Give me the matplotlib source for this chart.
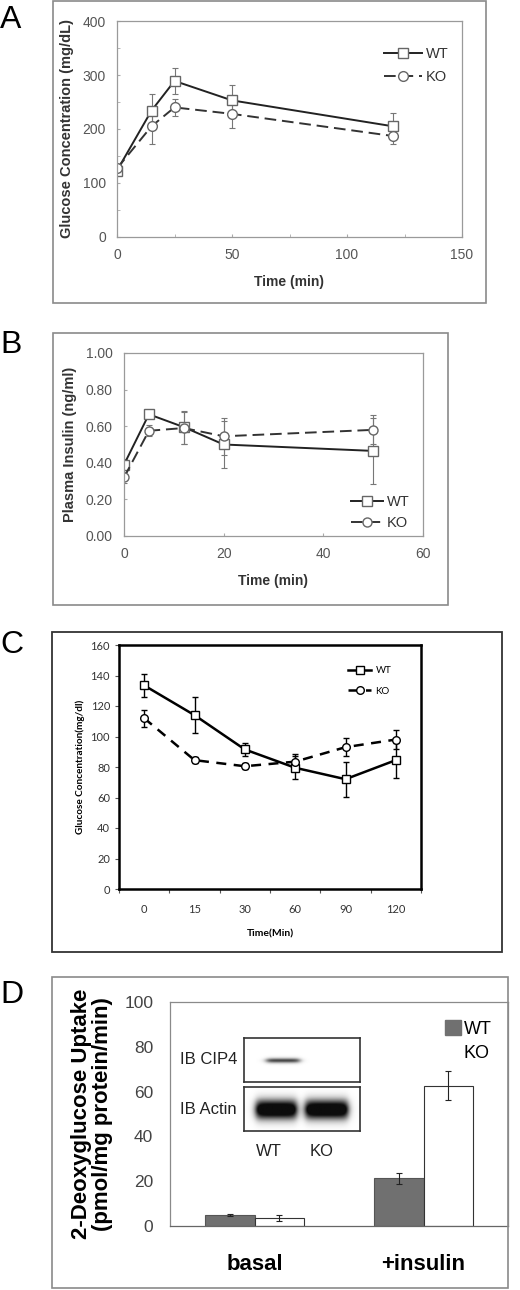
import numpy as np
import matplotlib
matplotlib.use("Agg")
import matplotlib.pyplot as plt
from matplotlib.patches import Rectangle
from matplotlib.patches import Patch

# ---------------- data ----------------
A_time = [0, 15, 25, 50, 120]
A_wt = [123, 234, 289, 253, 205]
A_wt_err = [5, 30, 24, 29, 24]
A_ko = [127, 205, 240, 228, 187]
A_ko_err = [5, 32, 15, 27, 15]

B_time = [0, 5, 12, 20, 50]
B_wt = [0.39, 0.665, 0.595, 0.50, 0.465]
B_wt_err = [0.03, 0.02, 0.09, 0.13, 0.18]
B_ko = [0.32, 0.575, 0.59, 0.545, 0.58]
B_ko_err = [0.03, 0.03, 0.09, 0.10, 0.08]

C_labels = ['0', '15', '30', '60', '90', '120']
C_wt = [133.5, 114, 91.5, 79.5, 72, 84.5]
C_wt_err = [7.5, 12, 4, 7.5, 11.5, 11.5]
C_ko = [112, 84.5, 80.5, 83.5, 93, 98]
C_ko_err = [5.5, 2, 2, 5, 6, 6]

D_groups = ['basal', '+insulin']
D_wt = [4.8, 21.3]
D_wt_err = [0.5, 2.5]
D_ko = [3.6, 62.7]
D_ko_err = [1.2, 6.3]

W, H = 520, 1290
fig = plt.figure(figsize=(W / 100, H / 100), dpi=100)
plt.rcParams['font.family'] = ['Liberation Sans', 'DejaVu Sans']


def ax_at(x0, y0, x1, y1):
    return fig.add_axes([x0 / W, 1 - y1 / H, (x1 - x0) / W, (y1 - y0) / H])


def frame(x0, y0, x1, y1, color, lw):
    fig.patches.append(Rectangle((x0 / W, 1 - y1 / H), (x1 - x0) / W, (y1 - y0) / H,
                                 transform=fig.transFigure, fill=False,
                                 edgecolor=color, linewidth=lw))


def panel_label(x, y, s):
    fig.text(x / W, 1 - y / H, s, fontsize=23, ha='left', va='center',
             family=['Liberation Sans'])


gray_tick = '#555555'
# ---------------- Panel A ----------------
frame(53, 1, 486, 303, '#8a8a8a', 1.2)
panel_label(0, 20, 'A')
axA = ax_at(117, 21, 462, 237)
axA.errorbar(A_time, A_wt, yerr=A_wt_err, fmt='none', ecolor='#777777', elinewidth=0.8, capsize=2.5, capthick=0.8)
axA.errorbar(A_time, A_ko, yerr=A_ko_err, fmt='none', ecolor='#777777', elinewidth=0.8, capsize=2.5, capthick=0.8)
axA.plot(A_time, A_wt, '-', color='#222222', lw=1.4, marker='s', ms=7, mfc='white', mec='#666666', mew=1, label='WT')
axA.plot(A_time, A_ko, '--', color='#333333', lw=1.4, dashes=(6, 3), marker='o', ms=7, mfc='white', mec='#666666', mew=1, label='KO')
axA.set_xlim(0, 150)
axA.set_ylim(0, 400)
axA.set_xticks([0, 50, 100, 150])
axA.set_yticks([0, 100, 200, 300, 400])
axA.set_xticks([25, 75, 125], minor=True)
axA.set_yticks([50, 150, 250, 350], minor=True)
axA.tick_params(axis='both', which='both', direction='in', length=2, color='#aaaaaa',
                labelsize=10, labelcolor=gray_tick, pad=8)
for s in axA.spines.values():
    s.set_color('#9a9a9a'); s.set_linewidth(0.9)
axA.set_xlabel('Time (min)', fontsize=10, fontweight='bold', color='#333333', labelpad=9)
axA.set_ylabel('Glucose Concentration (mg/dL)', fontsize=10.5, fontweight='bold', color='#333333', labelpad=6)
axA.legend(loc='upper right', bbox_to_anchor=(1.0, 0.94), frameon=False, fontsize=10.5,
           handlelength=2.6, labelcolor='#333333', handletextpad=0.3, labelspacing=0.6)

# ---------------- Panel B ----------------
frame(53, 333, 448, 605, '#8a8a8a', 1.2)
panel_label(0, 345, 'B')
axB = ax_at(124, 353, 423, 536)
axB.errorbar(B_time, B_wt, yerr=B_wt_err, fmt='none', ecolor='#777777', elinewidth=0.8, capsize=2.5, capthick=0.8)
axB.errorbar(B_time, B_ko, yerr=B_ko_err, fmt='none', ecolor='#777777', elinewidth=0.8, capsize=2.5, capthick=0.8)
axB.plot(B_time, B_wt, '-', color='#222222', lw=1.4, marker='s', ms=6.5, mfc='white', mec='#666666', mew=1, label='WT')
axB.plot(B_time, B_ko, '--', color='#333333', lw=1.4, dashes=(6, 3), marker='o', ms=6.5, mfc='white', mec='#666666', mew=1, label='KO')
axB.set_xlim(0, 60)
axB.set_ylim(0, 1.0)
axB.set_xticks([0, 20, 40, 60])
axB.set_yticks([0, 0.2, 0.4, 0.6, 0.8, 1.0])
axB.set_yticklabels(['%.2f' % v for v in [0, 0.2, 0.4, 0.6, 0.8, 1.0]])
axB.tick_params(axis='both', which='both', direction='in', length=2, color='#aaaaaa',
                labelsize=10, labelcolor=gray_tick, pad=8)
for s in axB.spines.values():
    s.set_color('#9a9a9a'); s.set_linewidth(0.9)
axB.set_xlabel('Time (min)', fontsize=10, fontweight='bold', color='#333333', labelpad=9)
axB.set_ylabel('Plasma Insulin (ng/ml)', fontsize=10.5, fontweight='bold', color='#333333', labelpad=6)
axB.legend(loc='lower right', bbox_to_anchor=(1.0, -0.04), frameon=False, fontsize=10.5,
           handlelength=2.2, labelcolor='#333333', handletextpad=0.3, labelspacing=0.5)

# ---------------- Panel C ----------------
frame(52, 632, 502, 952, '#333333', 1.3)
panel_label(0, 645, 'C')
axC = ax_at(119, 645, 421, 889)
xc = np.arange(len(C_labels)) + 0.5
axC.errorbar(xc, C_wt, yerr=C_wt_err, fmt='none', ecolor='black', elinewidth=1.0, capsize=2.5, capthick=1.0)
axC.errorbar(xc, C_ko, yerr=C_ko_err, fmt='none', ecolor='black', elinewidth=1.0, capsize=2.5, capthick=1.0)
axC.plot(xc, C_wt, '-', color='black', lw=1.8, marker='s', ms=5.5, mfc='white', mec='black', mew=1, label='WT')
axC.plot(xc, C_ko, '--', color='black', lw=1.8, dashes=(4, 3), marker='o', ms=5.5, mfc='white', mec='black', mew=1, label='KO')
axC.set_xlim(0, len(C_labels))
axC.set_ylim(0, 160)
axC.set_xticks(np.arange(len(C_labels) + 1))
axC.set_xticklabels([])
axC.set_xticks(xc, minor=True)
axC.set_xticklabels(C_labels, minor=True)
axC.set_yticks(np.arange(0, 161, 20))
axC.tick_params(axis='x', which='major', direction='out', length=3, color='#555555')
axC.tick_params(axis='x', which='minor', length=0, labelsize=8, pad=11, labelcolor='#333333')
axC.tick_params(axis='y', direction='out', length=3, color='#555555', labelsize=8, labelcolor='#333333')
for lab in axC.get_xticklabels(minor=True) + axC.get_yticklabels():
    lab.set_family(['Lato', 'DejaVu Sans'])
for s in axC.spines.values():
    s.set_color('black'); s.set_linewidth(1.8)
axC.set_xlabel('Time(Min)', fontsize=7.5, fontweight='bold', family=['Lato', 'DejaVu Sans'], labelpad=10)
axC.set_ylabel('Glucose Concentration(mg/dl)', fontsize=7.2, fontweight='bold', family=['Lato', 'DejaVu Sans'], labelpad=4)
axC.legend(loc='upper right', bbox_to_anchor=(0.93, 0.95), frameon=False,
           handlelength=2.4, handletextpad=0.4, labelspacing=1.2,
           prop={'family': ['Lato', 'DejaVu Sans'], 'size': 7})

# ---------------- Panel D ----------------
frame(52, 977, 508, 1288, '#8a8a8a', 1.2)
panel_label(0, 995, 'D')
axD = ax_at(170, 1002, 508, 1226)
xd = np.arange(len(D_groups)) + 0.5
bw = 0.29
axD.bar(xd - bw / 2, D_wt, width=bw, color='#707070', edgecolor='#555555', linewidth=0.8, label='WT')
axD.bar(xd + bw / 2, D_ko, width=bw, color='white', edgecolor='#333333', linewidth=0.8, label='KO')
axD.errorbar(xd - bw / 2, D_wt, yerr=D_wt_err, fmt='none', ecolor='#222222', elinewidth=0.8, capsize=2, capthick=0.8)
axD.errorbar(xd + bw / 2, D_ko, yerr=D_ko_err, fmt='none', ecolor='#222222', elinewidth=0.8, capsize=2, capthick=0.8)
axD.set_xlim(0, len(D_groups))
axD.set_ylim(0, 100)
axD.set_yticks(np.arange(0, 101, 20))
axD.set_xticks(xd)
axD.set_xticklabels(D_groups, fontsize=16, fontweight='bold')
axD.tick_params(axis='x', length=0, pad=20)
axD.tick_params(axis='y', length=0, labelsize=12.5, labelcolor='#444444', pad=12)
for s in axD.spines.values():
    s.set_color('#8a8a8a'); s.set_linewidth(0.9)
axD.spines['bottom'].set_color('#666666')
axD.set_ylabel('2-Deoxyglucose Uptake\n(pmol/mg protein/min)', fontsize=16, fontweight='bold',
               linespacing=1.0, labelpad=8)
handles = [Patch(facecolor='#707070', edgecolor='#707070'), Patch(facecolor='white', edgecolor='white')]
axD.legend(handles, ['WT', 'KO'], loc='upper right', bbox_to_anchor=(1.0, 0.99), frameon=False,
           fontsize=13, handlelength=0.9, handleheight=0.9, handletextpad=0.15, labelspacing=0.35)

# Inset western blot (illustrative image)
def band_img(centers, widths, sigy, amp, shape=(40, 120)):
    yy, xx = np.mgrid[0:shape[0], 0:shape[1]]
    img = np.zeros(shape)
    for c, w, a in zip(centers, widths, amp):
        gx = 1.0 / (1 + np.exp((np.abs(xx - c) - w) / 2.0))
        gy = np.exp(-((yy - shape[0] / 2) ** 2) / (2 * sigy ** 2))
        img += a * gx * gy
    return 1 - np.clip(img, 0, 1) * 0.95

ax_b1 = ax_at(244, 1038, 360, 1082)
ax_b1.imshow(band_img([40], [17], 1.6, [0.75]), cmap='gray', vmin=0, vmax=1, aspect='auto')
ax_b2 = ax_at(244, 1087, 360, 1131)
ax_b2.imshow(band_img([33, 85], [21, 22], 6.0, [1.4, 1.4]), cmap='gray', vmin=0, vmax=1, aspect='auto')
for a in (ax_b1, ax_b2):
    a.set_xticks([]); a.set_yticks([])
    for s in a.spines.values():
        s.set_color('#333333'); s.set_linewidth(1.2)
fig.text(237 / W, 1 - 1060 / H, 'IB CIP4', fontsize=12, ha='right', va='center', color='#222222')
fig.text(237 / W, 1 - 1109 / H, 'IB Actin', fontsize=12, ha='right', va='center', color='#222222')
fig.text(269 / W, 1 - 1152 / H, 'WT', fontsize=12, ha='center', va='center', color='#222222')
fig.text(322 / W, 1 - 1152 / H, 'KO', fontsize=12, ha='center', va='center', color='#222222')

fig.savefig('out.png', dpi=100)
